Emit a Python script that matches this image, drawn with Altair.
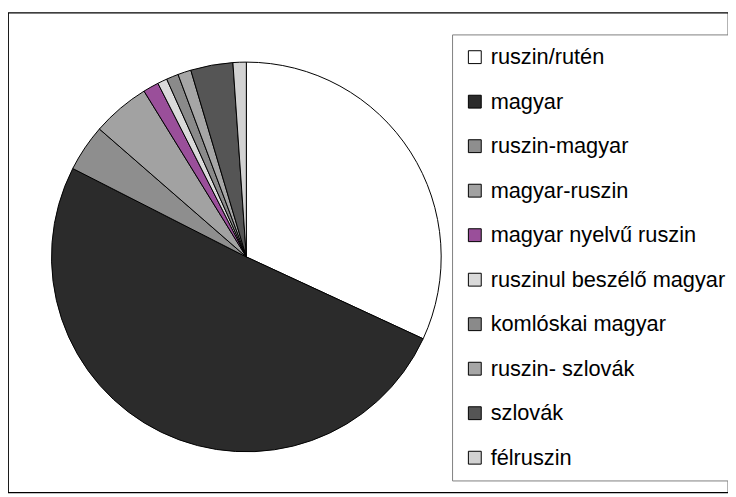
import altair as alt
import pandas as pd

categories = [
    "ruszin/rutén",
    "magyar",
    "ruszin-magyar",
    "magyar-ruszin",
    "magyar nyelvű ruszin",
    "ruszinul beszélő magyar",
    "komlóskai magyar",
    "ruszin- szlovák",
    "szlovák",
    "félruszin",
]
shares = [31.9, 50.6, 3.9, 4.8, 1.3, 0.8, 1.0, 1.1, 3.5, 1.1]
colors = [
    "#ffffff",
    "#2b2b2b",
    "#8e8e8e",
    "#a2a2a2",
    "#9a4f9a",
    "#dadada",
    "#8a8a8a",
    "#a6a6a6",
    "#555555",
    "#d2d2d2",
]

df = pd.DataFrame({"kategória": categories, "arány": shares, "sorrend": list(range(len(categories)))})

chart = (
    alt.Chart(df)
    .mark_arc(radius=197, stroke="black", strokeWidth=1)
    .encode(
        theta=alt.Theta("arány:Q", stack=True),
        color=alt.Color(
            "kategória:N",
            sort=categories,
            scale=alt.Scale(domain=categories, range=colors),
            legend=alt.Legend(
                title=None,
                orient="none",
                legendX=449,
                legendY=22,
                padding=12,
                rowPadding=23,
                symbolType="square",
                symbolSize=169,
                symbolStrokeColor="black",
                symbolStrokeWidth=1,
                symbolOpacity=1,
                labelFontSize=22,
                labelFont="Liberation Sans",
                labelColor="black",
                labelOffset=5,
                labelLimit=400,
                strokeColor="#808080",
                fillColor="white",
            ),
        ),
        order=alt.Order("sorrend:Q"),
        x=alt.value(241),
        y=alt.value(247),
    )
    .properties(
        width=728,
        height=485,
        background="white",
        autosize=alt.AutoSizeParams(type="none"),
        padding={"left": 0, "top": 2, "right": 0, "bottom": 0},
    )
    .configure_view(stroke="black", strokeWidth=1.2)
)

chart.save("out.html", embed_options={"renderer": "svg", "actions": False})
